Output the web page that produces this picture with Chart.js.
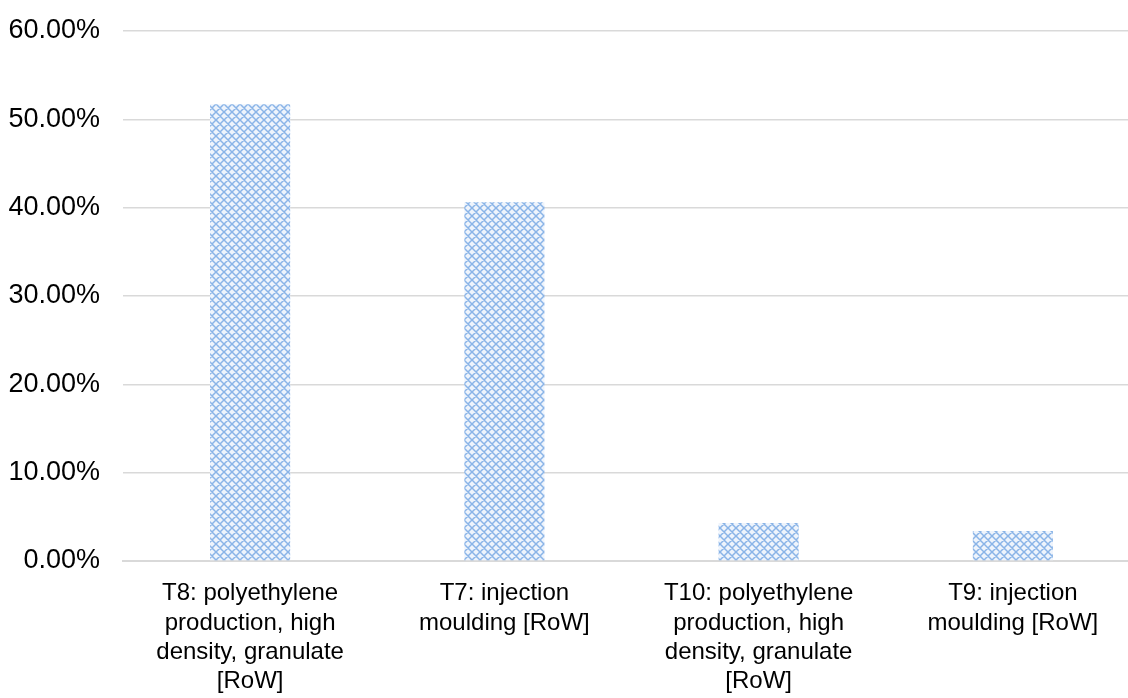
<!DOCTYPE html>
<html>
<head>
<meta charset="utf-8">
<script src="https://cdn.jsdelivr.net/npm/chart.js@4/dist/chart.umd.min.js"></script>
<style>
  html, body { margin: 0; padding: 0; background: #ffffff; overflow: hidden; }
  #wrap { position: relative; width: 1140px; height: 698px; }
</style>
</head>
<body>
<div id="wrap"><canvas id="chart"></canvas></div>
<script>
// Process contributions (share of total impact)
const categories = [
  ["T8: polyethylene", "production, high", "density, granulate", "[RoW]"],
  ["T7: injection", "moulding [RoW]"],
  ["T10: polyethylene", "production, high", "density, granulate", "[RoW]"],
  ["T9: injection", "moulding [RoW]"]
];
const shares = [0.517, 0.406, 0.043, 0.034];
const yTicks = { min: 0, max: 0.6, step: 0.1 };

// Light-blue crosshatch fill for the bars
function makeHatch() {
  const c = document.createElement('canvas');
  c.width = 8; c.height = 8;
  const g = c.getContext('2d');
  g.fillStyle = '#eef4fc';
  g.fillRect(0, 0, 8, 8);
  g.strokeStyle = '#8ab4e7';
  g.lineWidth = 1.5;
  g.beginPath();
  g.moveTo(-2, 2); g.lineTo(2, -2);
  g.moveTo(0, 8); g.lineTo(8, 0);
  g.moveTo(6, 10); g.lineTo(10, 6);
  g.moveTo(-2, 6); g.lineTo(2, 10);
  g.moveTo(0, 0); g.lineTo(8, 8);
  g.moveTo(6, -2); g.lineTo(10, 2);
  g.stroke();
  return g.createPattern(c, 'repeat');
}

const hatch = makeHatch();
const FONT = "'Liberation Sans', Arial, sans-serif";

new Chart(document.getElementById('chart'), {
  type: 'bar',
  data: {
    labels: categories,
    datasets: [{
      data: shares,
      backgroundColor: hatch,
      borderWidth: 0,
      barPercentage: 0.315,
      categoryPercentage: 1.0
    }]
  },
  options: {
    responsive: true,
    maintainAspectRatio: false,
    animation: false,
    layout: { padding: { top: 31, left: 8, right: 0, bottom: 0 } },
    plugins: { legend: { display: false }, tooltip: { enabled: false } },
    scales: {
      x: {
        grid: { display: false, drawTicks: false },
        border: { display: true, color: '#d9d9d9', width: 2 },
        afterFit: scale => { scale.height = 137; scale.paddingLeft = 0; scale.paddingRight = 0; },
        ticks: {
          color: '#000000',
          font: { family: FONT, size: 24, lineHeight: 1.22 },
          padding: 18,
          maxRotation: 0,
          autoSkip: false
        }
      },
      y: {
        min: yTicks.min,
        max: yTicks.max,
        grid: { color: '#d9d9d9', lineWidth: 1.5, drawTicks: false },
        border: { display: false },
        afterFit: scale => { scale.width = 115; scale.paddingTop = 0; scale.paddingBottom = 0; },
        ticks: {
          stepSize: yTicks.step,
          color: '#000000',
          font: { family: FONT, size: 27 },
          padding: 23,
          callback: v => (v * 100).toFixed(2) + '%'
        }
      }
    }
  }
});
</script>
</body>
</html>
